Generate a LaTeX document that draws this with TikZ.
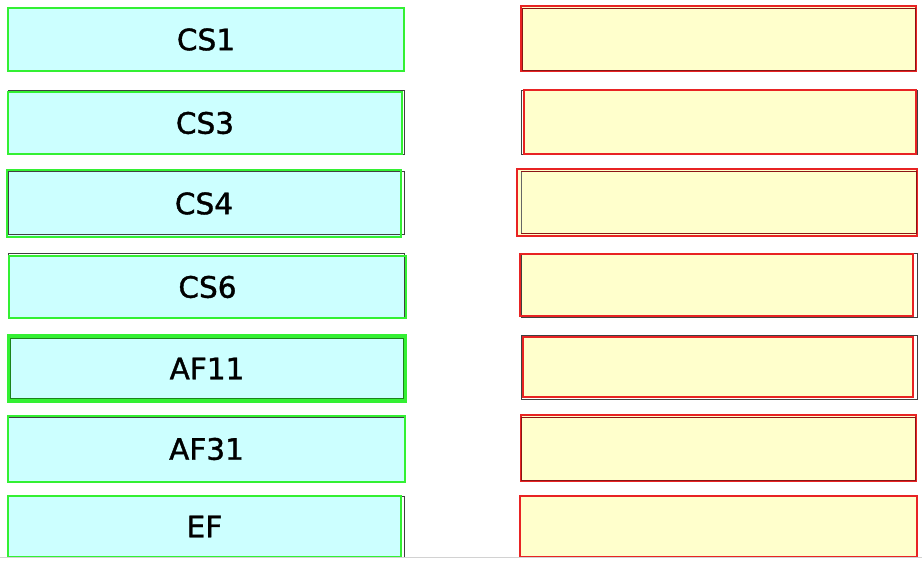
\documentclass[tikz,border=0pt]{standalone}
\usepackage{fontspec}
\setmainfont[FakeBold=1.3]{DejaVu Sans}
\definecolor{lcyan}{HTML}{CCFFFF}
\definecolor{lyel}{HTML}{FFFFCC}
\definecolor{bgreen}{HTML}{33F033}
\definecolor{bred}{HTML}{E82323}
\tikzset{
  lfill/.style={fill=lcyan, inner sep=0pt, font=\fontsize{29.5}{31}\selectfont, text=black},
  rfill/.style={fill=lyel, inner sep=0pt},
  blk/.style={draw=black!75, line width=0.6pt},
  grn/.style={draw=bgreen, line width=2.4pt},
  redb/.style={draw=bred, line width=2.4pt},
}
\begin{document}
\begin{tikzpicture}[x=1pt,y=1pt]
\useasboundingbox[fill=white] (0,0) rectangle (922,563);
% left column
\node[lfill, minimum width=396pt, minimum height=63pt] (cs1) at (206,523.5) {CS1};
\draw[grn] (cs1.south west) rectangle (cs1.north east);

\node[lfill, minimum width=394pt, minimum height=62pt] (cs3) at (205,440) {CS3};
\draw[blk] (8,409) rectangle (404,473);
\draw[grn] (cs3.south west) rectangle (cs3.north east);

\node[lfill, minimum width=394pt, minimum height=67pt] (cs4) at (204,359.5) {CS4};
\draw[blk] (8,329) rectangle (404,392);
\draw[grn] (cs4.south west) rectangle (cs4.north east);

\node[lfill, minimum width=397pt, minimum height=62pt] (cs6) at (207.5,276) {CS6};
\draw[blk] (8,245) rectangle (404,310);
\draw[grn] (cs6.south west) rectangle (cs6.north east);

\node[lfill, minimum width=396pt, minimum height=65pt] (af11) at (207,194.5) {AF11};
\draw[grn, line width=3.6pt] (af11.south west) rectangle (af11.north east);
\draw[draw=bgreen!55!black, line width=0.6pt] (10.5,164.5) rectangle (403.5,224.5);

\node[lfill, minimum width=397pt, minimum height=66pt] (af31) at (206.5,114) {AF31};
\draw[blk] (8,82) rectangle (404,146);
\draw[grn] (af31.south west) rectangle (af31.north east);

\node[lfill, minimum width=393pt, minimum height=61pt] (ef) at (204.5,36.5) {EF};
\draw[blk] (8,6) rectangle (404,67);
\draw[grn] (ef.south west) rectangle (ef.north east);

% right column
\node[rfill, minimum width=395pt, minimum height=65pt] (r1) at (718.5,524.5) {};
\draw[redb] (r1.south west) rectangle (r1.north east);
\draw[draw=bred!60!black, line width=0.6pt] (522,493) rectangle (915,555);

\node[rfill, minimum width=392pt, minimum height=64pt] (r2) at (720,441) {};
\draw[blk] (521,409) rectangle (917,473);
\draw[redb] (r2.south west) rectangle (r2.north east);

\node[rfill, minimum width=400pt, minimum height=67pt] (r3) at (717,360.5) {};
\draw[redb] (r3.south west) rectangle (r3.north east);
\draw[draw=black!60, line width=0.8pt] (521,329) -- (521,392);
\draw[draw=bred!60!black, line width=0.6pt] (521,391.5) -- (916,391.5) -- (916,329.5) -- (521,329.5);

\node[rfill, minimum width=393pt, minimum height=62pt] (r4) at (716.5,278) {};
\draw[blk] (521,246) rectangle (917,310);
\draw[redb] (r4.south west) rectangle (r4.north east);

\node[rfill, minimum width=390pt, minimum height=60pt] (r5) at (718,196) {};
\draw[blk] (521,164) rectangle (917,228);
\draw[redb] (r5.south west) rectangle (r5.north east);

\node[rfill, minimum width=395pt, minimum height=66pt] (r6) at (718.5,115) {};
\draw[redb] (r6.south west) rectangle (r6.north east);
\draw[draw=bred!60!black, line width=0.6pt] (521.5,83) rectangle (915,146);

\node[rfill, minimum width=397pt, minimum height=61pt] (r7) at (718.5,36.5) {};
\draw[redb] (r7.south west) rectangle (r7.north east);

% bottom edge
\fill[white] (0,0) rectangle (922,5.5);
\draw[gray!35, line width=0.8pt] (0,5.5) -- (922,5.5);
\end{tikzpicture}
\end{document}
